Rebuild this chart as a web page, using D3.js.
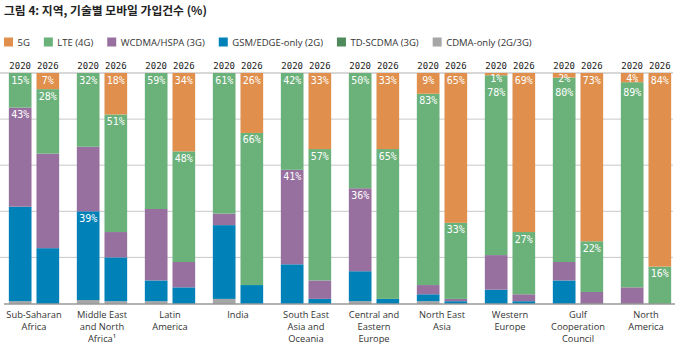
<!DOCTYPE html>
<html>
<head>
<meta charset="utf-8">
<script src="https://cdn.jsdelivr.net/npm/d3@7"></script>
<style>
  body { margin: 0; background: #fff; }
  .title { font-family: "Noto Sans CJK KR", sans-serif; font-weight: 700; font-size: 11.8px; fill: #222; }
  .legend-text { font-family: "Open Sans", sans-serif; font-size: 9.5px; fill: #333; }
  .region { font-family: "Open Sans", sans-serif; font-size: 9.3px; fill: #333; }
  .year { font-family: "DejaVu Sans Mono", monospace; font-size: 9px; fill: #222; }
  .pct { font-family: "DejaVu Sans Mono", monospace; font-size: 10px; fill: #fff; }
</style>
</head>
<body>
<svg id="chart" width="680" height="348"></svg>
<script>
// Mobile subscriptions by region and technology (%), 2020 vs 2026
const regions = [
  ["Sub-Saharan", "Africa"],
  ["Middle East", "and North", "Africa\u00b9"],
  ["Latin", "America"],
  ["India"],
  ["South East", "Asia and", "Oceania"],
  ["Central and", "Eastern", "Europe"],
  ["North East", "Asia"],
  ["Western", "Europe"],
  ["Gulf", "Cooperation", "Council"],
  ["North", "America"]
];
const years = ["2020", "2026"];
const techs = ["5G", "LTE (4G)", "WCDMA/HSPA (3G)", "GSM/EDGE-only (2G)", "TD-SCDMA (3G)", "CDMA-only (2G/3G)"];
const colors = ["#e0904c", "#6ab17a", "#98709f", "#0082b9", "#4e8a5c", "#a6a6a6"];

// one entry per bar: region0-2020, region0-2026, region1-2020, ...
const g5    = [0, 7, 0, 18, 0, 34, 0, 26, 0, 33, 0, 33, 9, 65, 1, 69, 2, 73, 4, 84];
const lte   = [15, 28, 32, 51, 59, 48, 61, 66, 42, 57, 50, 65, 83, 33, 78, 27, 80, 22, 89, 16];
const wcdma = [43, 41, 28, 11, 31, 11, 5, 0, 41, 8, 36, 0, 4, 1, 15, 3, 8, 5, 7, 0];
const gsm   = [41, 24, 38.5, 19, 9, 7, 32, 8, 17, 2, 13, 2, 3, 1, 6, 1, 10, 0, 0, 0];
const td    = [0, 0, 0, 0, 0, 0, 0, 0, 0, 0, 0, 0, 0, 0, 0, 0, 0, 0, 0, 0];
const cdma  = [1, 0, 1.5, 1, 1, 0, 2, 0, 0, 0, 1, 0, 1, 0, 0, 0, 0, 0, 0, 0];

// extra segment labels besides 5G / LTE: [bar index, tech index]
const extraLabels = [[0, 2], [2, 3], [8, 2], [10, 2]];

(function() {
  const svg = d3.select("#chart");
  const width = +svg.attr("width");
  const top = 73, bottom = 303.5;

  const series = [g5, lte, wcdma, gsm, td, cdma];
  // stacking from the baseline up: CDMA, GSM, TD-SCDMA, WCDMA, LTE, 5G
  const stackOrder = [5, 3, 4, 2, 1, 0];

  const x0 = d3.scaleBand().domain(d3.range(regions.length)).range([0, width])
    .paddingInner(0.26).paddingOuter(0.13);
  const x1 = d3.scaleBand().domain(years).range([0, x0.bandwidth()])
    .paddingInner(0.18).paddingOuter(0);
  const y = d3.scaleLinear().domain([0, 100]).range([bottom, top]);

  // Title
  svg.append("text").attr("class", "title").attr("x", 4).attr("y", 15)
    .text("그림 4: 지역, 기술별 모바일 가입건수 (%)");

  // Legend
  let lx = 4;
  techs.forEach((t, i) => {
    svg.append("rect").attr("x", lx).attr("y", 37.5).attr("width", 9).attr("height", 9)
      .attr("fill", colors[i]);
    const txt = svg.append("text").attr("class", "legend-text")
      .attr("x", lx + 13.5).attr("y", 45.5).text(t);
    lx += 13.5 + txt.node().getComputedTextLength() + 14;
  });

  // Gridlines
  const grid = svg.append("g");
  grid.selectAll("line").data([20, 40, 60, 80, 100]).join("line")
    .attr("x1", 0).attr("x2", 673)
    .attr("y1", d => y(d)).attr("y2", d => y(d))
    .attr("stroke", d => d === 100 ? "#d8d8d8" : "#c8c8c8")
    .attr("stroke-width", d => d === 100 ? 2 : 1);

  // Bars
  const bars = [];
  regions.forEach((r, ri) => {
    years.forEach((yr, yi) => {
      bars.push({ ri, yr, idx: ri * 2 + yi });
    });
  });

  const barG = svg.append("g");
  const labelG = svg.append("g");
  bars.forEach(b => {
    const bx = x0(b.ri) + x1(b.yr);
    const bw = x1.bandwidth();
    let acc = 0;
    const segTop = {};
    stackOrder.forEach(ti => {
      const v = series[ti][b.idx];
      if (v > 0) {
        barG.append("rect")
          .attr("x", bx).attr("width", bw)
          .attr("y", y(acc + v)).attr("height", y(acc) - y(acc + v))
          .attr("fill", colors[ti]);
      }
      segTop[ti] = y(acc + v);
      acc += v;
    });

    // year label on top
    svg.append("text").attr("class", "year")
      .attr("x", bx + bw / 2).attr("y", 69)
      .attr("text-anchor", "middle").text(b.yr);

    // segment labels, top-down
    const toLabel = [0, 1].concat(extraLabels.filter(e => e[0] === b.idx).map(e => e[1]));
    let lastY = -Infinity;
    [0, 1, 2, 3].filter(ti => toLabel.includes(ti) && series[ti][b.idx] > 0).forEach(ti => {
      const v = series[ti][b.idx];
      let ly = Math.max(segTop[ti] + 10.5, lastY + 14);
      if (v < 5) ly = segTop[ti] + 8.5;
      labelG.append("text").attr("class", "pct")
        .attr("x", bx + bw / 2).attr("y", ly)
        .attr("text-anchor", "middle").text(Math.round(v) + "%");
      lastY = ly;
    });
  });

  // Baseline
  svg.append("line").attr("x1", 4).attr("x2", 675)
    .attr("y1", bottom + 0.5).attr("y2", bottom + 0.5)
    .attr("stroke", "#666").attr("stroke-width", 1.2);

  // Region labels
  regions.forEach((lines, ri) => {
    const cx = x0(ri) + x0.bandwidth() / 2;
    const t = svg.append("text").attr("class", "region").attr("text-anchor", "middle");
    lines.forEach((ln, li) => {
      t.append("tspan").attr("x", cx).attr("y", 318 + li * 11.8).text(ln);
    });
  });
})();
</script>
</body>
</html>
